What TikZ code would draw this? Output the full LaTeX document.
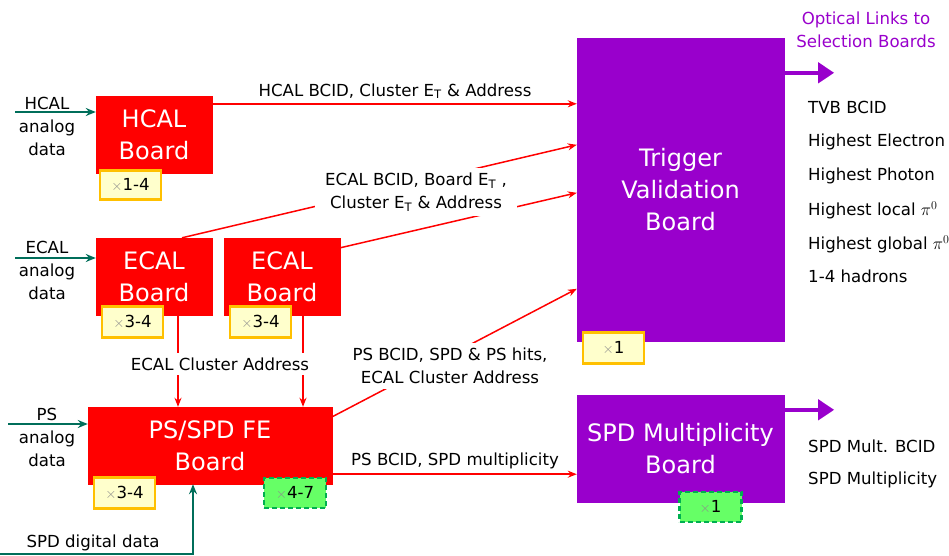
\documentclass[tikz,border=0pt]{standalone}
\usepackage{fontspec}
\setmainfont{DejaVu Sans}
\usetikzlibrary{arrows.meta,calc}
\definecolor{bred}{RGB}{255,0,0}
\definecolor{bpurple}{RGB}{153,0,204}
\definecolor{bteal}{RGB}{0,110,90}
\definecolor{byel}{RGB}{255,255,204}
\definecolor{borange}{RGB}{255,192,0}
\definecolor{bgreen}{RGB}{102,255,102}
\definecolor{bdgreen}{RGB}{0,176,80}
\tikzset{
  board/.style={fill=bred,draw=bred,text=white,align=center,inner sep=0pt,
    minimum width=116pt,minimum height=77pt,font=\fontsize{24}{32}\selectfont},
  pboard/.style={fill=bpurple,draw=bpurple,text=white,align=center,inner sep=0pt,
    minimum width=207pt,font=\fontsize{24}{32}\selectfont},
  ybadge/.style={fill=byel,draw=borange,line width=2.2pt,minimum width=61pt,
    minimum height=29pt,inner sep=0pt,font=\fontsize{16.6}{20}\selectfont},
  gbadge/.style={fill=bgreen,draw=bdgreen,line width=2.2pt,dash pattern=on 5pt off 3pt,minimum width=62pt,
    minimum height=30pt,inner sep=0pt,font=\fontsize{16.6}{20}\selectfont},
  lbl/.style={align=center,font=\fontsize{16.6}{23}\selectfont,inner sep=0pt},
  wlbl/.style={lbl,fill=white,inner xsep=10pt,inner ysep=5pt},
  rlbl/.style={anchor=west,font=\fontsize{16.6}{20}\selectfont,inner sep=0pt},
  rarr/.style={bred,line width=1.5pt,-{Stealth[length=9pt,width=7pt]}},
  tarr/.style={bteal,line width=2pt,-{Stealth[length=10pt,width=8pt]}},
  parr/.style={bpurple,line width=4pt,-{Triangle[length=16pt,width=20pt]}},
}
\newcommand{\mult}{{\color{black!45}\fontsize{14}{14}\selectfont$\times$}}
\begin{document}
\begin{tikzpicture}[x=1pt,y=-1pt]
\useasboundingbox (0,0) rectangle (949,556);

% boards
\node[board] (HCAL) at (154,134.5) {HCAL\\Board};
\node[board] (ECAL1) at (154,276.5) {ECAL\\Board};
\node[board] (ECAL2) at (282,276.5) {ECAL\\Board};
\node[board,minimum width=244pt] (PS) at (210,445.5) {PS/SPD FE\\Board};
\node[pboard,minimum height=303pt] (TVB) at (680.5,189.5) {Trigger\\Validation\\Board};
\node[pboard,minimum height=107pt] (SPDM) at (680.5,448.5) {SPD Multiplicity\\Board};

% red connectors
\coordinate (h1) at ($(HCAL.north east)+(0,8)$);
\draw[rarr] (h1) -- (h1 -| TVB.west);
\draw[rarr] ($(ECAL1.north)+(28,0)$) -- ($(TVB.north west)+(0,107)$);
\draw[rarr] ($(ECAL2.north east)+(0,10)$) -- ($(TVB.north west)+(0,155)$);
\coordinate (e1) at ($(ECAL1.south)+(24,0)$);
\coordinate (e2) at ($(ECAL2.south)+(21,0)$);
\draw[rarr] (e1) -- (e1 |- PS.north);
\draw[rarr] (e2) -- (e2 |- PS.north);
\draw[rarr] ($(PS.north east)+(0,10)$) -- ($(TVB.north west)+(0,251)$);
\coordinate (p1) at ($(PS.south east)+(0,-10)$);
\draw[rarr] (p1) -- (p1 -| SPDM.west);

% teal inputs
\coordinate (hin) at (15,112);
\coordinate (ein) at (15,258);
\coordinate (pin) at (8,424);
\coordinate (sin) at (0,554);
\draw[tarr] (hin) -- (hin -| HCAL.west);
\draw[tarr] (ein) -- (ein -| ECAL1.west);
\draw[tarr] (pin) -- (pin -| PS.west);
\draw[tarr] (sin) -| ($(PS.south)+(-17,0)$);

% purple outputs
\coordinate (o1) at ($(TVB.north east)+(0,35)$);
\coordinate (o2) at ($(SPDM.north east)+(0,15)$);
\coordinate (o1e) at ($(o1)+(50,0)$);
\coordinate (o2e) at ($(o2)+(50,0)$);
\draw[parr] (o1) -- (o1e);
\draw[parr] (o2) -- (o2e);

% badges
\node[ybadge] (bH) at (130.5,185) {\mult1-4};
\node[ybadge,minimum height=31pt] (bE1) at (132.5,322) {\mult3-4};
\node[ybadge,minimum height=31pt] (bE2) at (260.5,322) {\mult3-4};
\node[ybadge,minimum height=31pt] (bP) at (124.5,493) {\mult3-4};
\node[gbadge] (gP) at (295,493) {\mult4-7};
\node[ybadge,minimum height=31pt] (bT) at (613.5,348) {\mult1};
\node[gbadge] (gS) at (710.5,507) {\mult1};

% labels
\node[lbl] (lH) at (395,91) {HCAL BCID, Cluster E\textsubscript{T} \& Address};
\node[wlbl] (lE) at (416,192) {ECAL BCID, Board E\textsubscript{T} ,\\Cluster E\textsubscript{T} \& Address};
\node[wlbl,inner xsep=3pt] (lC) at (220,364) {ECAL Cluster Address};
\node[wlbl] (lP) at (450,366) {PS BCID, SPD \& PS hits,\\ECAL Cluster Address};
\node[lbl] (lS) at (455,461) {PS BCID, SPD multiplicity};

\node[lbl] (iH) at (47,126) {HCAL\\analog\\data};
\node[lbl] (iE) at (47,270) {ECAL\\analog\\data};
\node[lbl] (iP) at (47,437) {PS\\analog\\data};
\node[lbl] (iS) at (93,543) {SPD digital data};

\node[lbl,text=bpurple] (opt) at (866,29.5) {Optical Links to\\Selection Boards};
\node[rlbl] (r1) at (808,107) {TVB BCID};
\node[rlbl] (r2) at (808,142) {Highest Electron};
\node[rlbl] (r3) at (808,176) {Highest Photon};
\node[rlbl] (r4) at (808,210) {Highest local $\pi^0$};
\node[rlbl] (r5) at (808,244) {Highest global $\pi^0$};
\node[rlbl] (r6) at (808,276) {1-4 hadrons};
\node[rlbl] (r7) at (808,446) {SPD Mult. BCID};
\node[rlbl] (r8) at (808,480) {SPD Multiplicity};
\end{tikzpicture}
\end{document}
